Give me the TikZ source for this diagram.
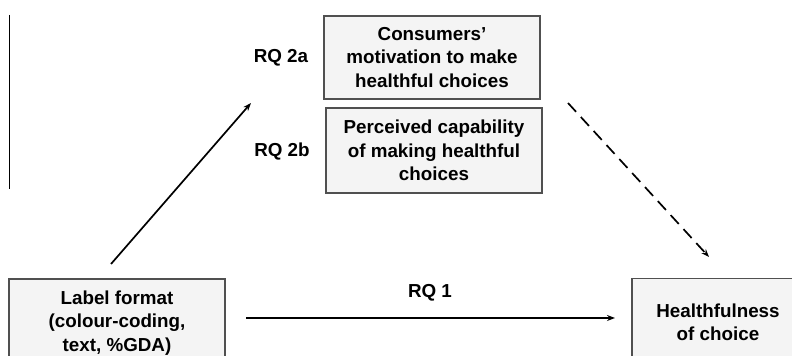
\documentclass[tikz,border=0pt]{standalone}
\usepackage{fontspec}
\setmainfont{Liberation Sans}
\usepackage{xcolor}
\usetikzlibrary{arrows.meta, positioning}
\definecolor{boxfill}{RGB}{244,244,244}
\definecolor{boxline}{RGB}{80,80,80}

\begin{document}
\begin{tikzpicture}[x=0.5pt, y=-0.5pt,
    every node/.style={font=\fontsize{9.4}{11.75}\selectfont\bfseries},
    varbox/.style={draw=boxline, fill=boxfill, line width=0.6pt, align=center,
                   inner sep=0pt, minimum width=108pt},
    path/.style={-{Stealth[length=4pt, width=3pt]}, line width=0.85pt}]
    \useasboundingbox (0,0) rectangle (792,356);
    \clip (0,0) rectangle (792,356);

    % Stray margin rule
    \draw[line width=0.6pt] (9.5,15) -- (9.5,189);

    % Mediators
    \node[varbox, minimum height=41.5pt] (motiv) at (432,57.5)
      {Consumers'\\motivation to make\\healthful choices};
    \node[varbox, minimum height=42.5pt] (capab) at (434,150.5)
      {Perceived capability\\of making healthful\\choices};
    \node (rq2a) at (281,58) {RQ 2a};
    \node (rq2b) at (282,152) {RQ 2b};

    % Predictor and outcome
    \node[varbox, minimum height=44pt] (label) at (117,323)
      {Label format\\(colour-coding,\\text, \%GDA)};
    \node[varbox, minimum width=86pt, minimum height=44pt] (health) at (718,322.5)
      {Healthfulness\\of choice};

    % Paths
    \coordinate (aStart) at (111,264);
    \coordinate (aEnd) at (251,103);
    \coordinate (bStart) at (568,103);
    \coordinate (bEnd) at (709,257);
    \coordinate (cStart) at (246,318);
    \coordinate (cEnd) at (615,318);
    \draw[path] (aStart) -- (aEnd);
    \draw[path, dash pattern=on 6pt off 3.5pt] (bStart) -- (bEnd);
    \draw[path] (cStart) -- (cEnd);
    \node (rq1) at (430,293) {RQ 1};
  \end{tikzpicture}
\end{document}
